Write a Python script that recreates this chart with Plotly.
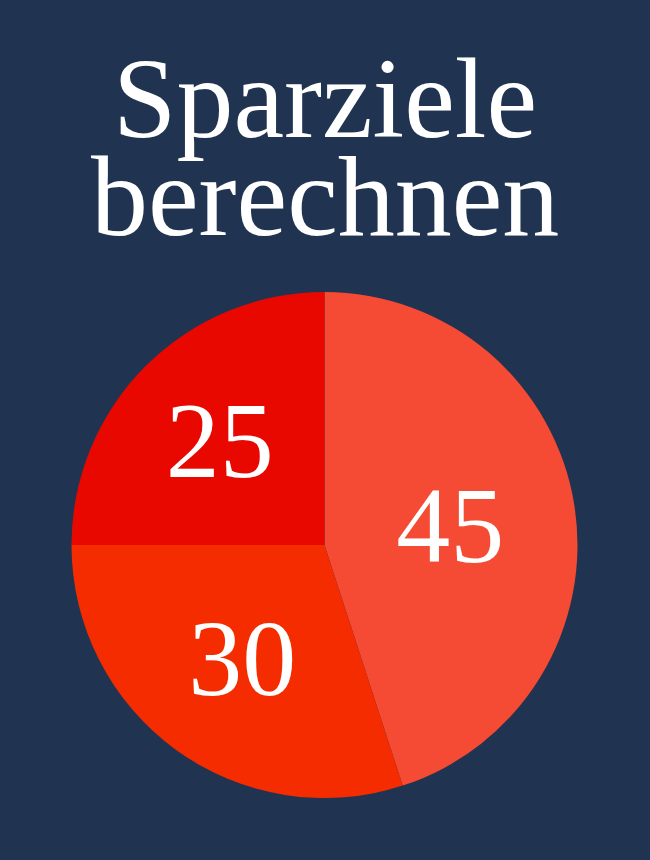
import plotly.graph_objects as go

title_lines = ["Sparziele", "berechnen"]
labels = ["A", "B", "C"]
values = [45, 30, 25]
colors = ["#F54A33", "#F52C00", "#E80800"]

BG = "#203451"
FONT = "Liberation Serif"

fig = go.Figure(
    go.Pie(
        labels=labels,
        values=values,
        sort=False,
        direction="clockwise",
        rotation=0,
        marker=dict(colors=colors, line=dict(width=0)),
        textinfo="value",
        textposition="inside",
        insidetextorientation="horizontal",
        textfont=dict(family=FONT, size=108, color="white"),
        hoverinfo="none",
        domain=dict(x=[71 / 650, 578 / 650], y=[1 - 798 / 860, 1 - 292 / 860]),
        showlegend=False,
    )
)

ys = [0.885, 0.771]
for t, y in zip(title_lines, ys):
    fig.add_annotation(
        text=t, x=0.5, y=y, xref="paper", yref="paper",
        xanchor="center", yanchor="middle", showarrow=False,
        font=dict(family=FONT, size=114, color="white"),
    )

fig.update_layout(
    width=650, height=860,
    margin=dict(l=0, r=0, t=0, b=0),
    paper_bgcolor=BG, plot_bgcolor=BG,
    uniformtext=dict(minsize=10),
)

fig.write_html("out.html")
